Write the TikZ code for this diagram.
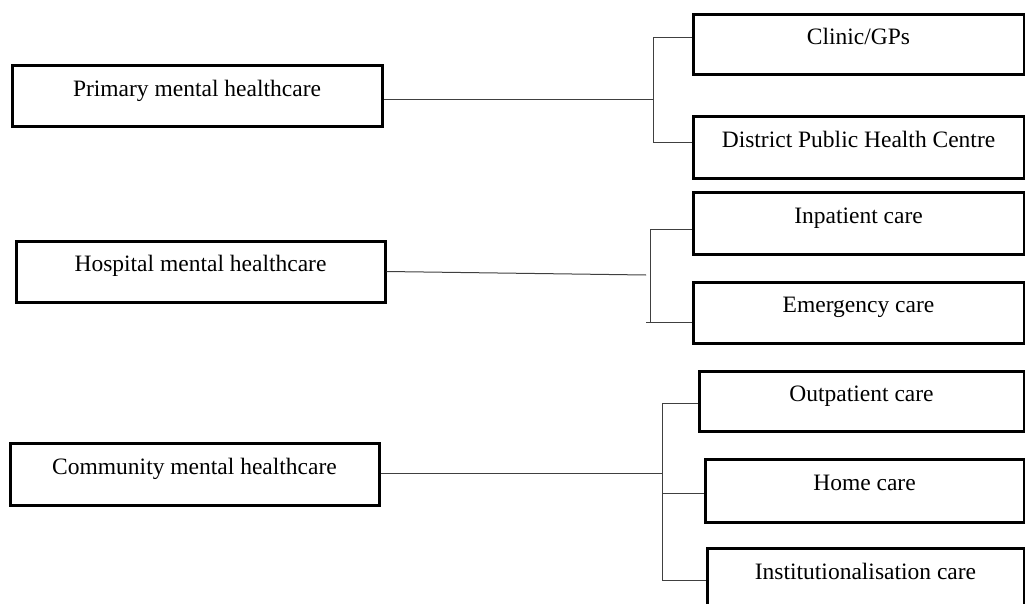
\documentclass[tikz,border=0pt]{standalone}
\usepackage{fontspec}
\setmainfont{Liberation Serif}
\begin{document}
\begin{tikzpicture}[x=1pt,y=-1pt,
  box/.style={draw=black, line width=3pt, rectangle, inner sep=0pt,
    text height=16pt, text depth=16pt,
    font=\fontsize{23.5}{28}\selectfont},
  link/.style={draw=black!75, line width=1pt}]
\useasboundingbox (0,0) rectangle (1025,604);
\clip (0,0) rectangle (1025,604);
% left boxes
\node[box, minimum width=370pt, minimum height=61pt] (prim) at (197,96.5) {Primary mental healthcare};
\node[box, minimum width=369pt, minimum height=61pt] (hosp) at (200.5,271.5) {Hospital mental healthcare};
\node[box, minimum width=369pt, minimum height=62pt] (comm) at (194.5,474) {Community mental healthcare};
% right boxes
\node[box, minimum width=331pt, minimum height=60pt] (clinic) at (858.5,45) {Clinic/GPs};
\node[box, minimum width=331pt, minimum height=62pt] (district) at (858.5,148) {District Public Health Centre};
\node[box, minimum width=331pt, minimum height=61pt] (inpat) at (858.5,223.5) {Inpatient care};
\node[box, minimum width=331pt, minimum height=61pt] (emerg) at (858.5,312.5) {Emergency care};
\node[box, minimum width=325pt, minimum height=60pt] (outpat) at (861.5,401) {Outpatient care};
\node[box, minimum width=319pt, minimum height=63pt] (home) at (864.5,490.5) {Home care};
\node[box, minimum width=317pt, minimum height=62pt] (inst) at (865.5,579) {Institutionalisation care};
% primary group
\coordinate (pj) at (653,100);
\coordinate (p1) at (653,38);
\coordinate (p2) at (653,143);
\draw[link] (prim.east |- pj) -- (pj);
\draw[link] (p1) -- (p2);
\draw[link] (p1) -- (clinic.west |- p1);
\draw[link] (p2) -- (district.west |- p2);
% hospital group
\coordinate (hj) at (646,275);
\coordinate (h1) at (650,229);
\coordinate (h2) at (650,323);
\coordinate (h2b) at (646,322);
\draw[link] (hosp.east) -- (hj);
\draw[link] (h1) -- (h2);
\draw[link] (h1) -- (inpat.west |- h1);
\draw[link] (h2b) -- (emerg.west |- h2b);
% community group
\coordinate (cj) at (662,473);
\coordinate (c1) at (662,403);
\coordinate (c2) at (662,493);
\coordinate (c3) at (662,580);
\draw[link] (comm.east |- cj) -- (cj);
\draw[link] (c1) -- (c3);
\draw[link] (c1) -- (outpat.west |- c1);
\draw[link] (c2) -- (home.west |- c2);
\draw[link] (c3) -- (inst.west |- c3);
\end{tikzpicture}
\end{document}
